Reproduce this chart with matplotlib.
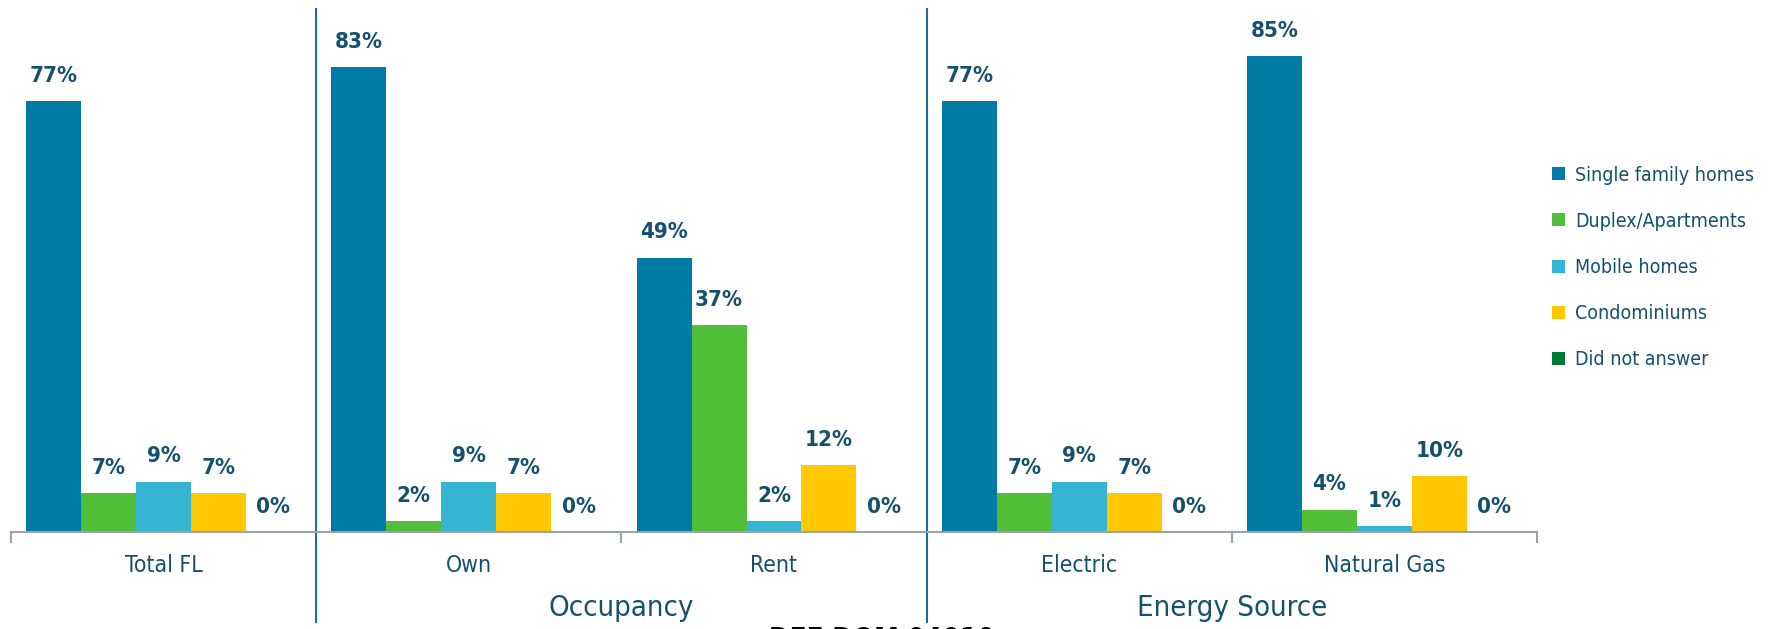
import numpy as np
import matplotlib
matplotlib.use("Agg")
import matplotlib.pyplot as plt
from matplotlib.transforms import blended_transform_factory

plt.rcParams['font.family'] = ['DejaVu Sans']
plt.rcParams['font.stretch'] = 'condensed'

groups = ["Total FL", "Own", "Rent", "Electric", "Natural Gas"]
series = ["Single family homes", "Duplex/Apartments", "Mobile homes",
          "Condominiums", "Did not answer"]
single_family = [77, 83, 49, 77, 85]
duplex = [7, 2, 37, 7, 4]
mobile = [9, 9, 2, 9, 1]
condo = [7, 7, 12, 7, 10]
no_answer = [0, 0, 0, 0, 0]
sections = [("Occupancy", 2.0), ("Energy Source", 4.0)]

colors = ["#007ba5", "#50be38", "#35b5d1", "#ffc800", "#007a33"]
txt = "#15506e"
grey = "#9aa3ab"
sep_col = "#1b6f93"

fig = plt.figure(figsize=(17.9, 6.29), dpi=100)
ax = fig.add_axes([11 / 1790, 97 / 629, 1526 / 1790, 532 / 629])

values = [single_family, duplex, mobile, condo, no_answer]
x = np.arange(len(groups)) + 0.5
w = 0.18
for i, (vals, name, c) in enumerate(zip(values, series, colors)):
    pos = x + (i - 2) * w
    ax.bar(pos, vals, w, color=c, label=name, linewidth=0)
    for p, v in zip(pos, vals):
        ax.annotate(f"{v}%", (p, v), xytext=(0, 11), textcoords="offset points",
                    ha="center", va="bottom", fontsize=16, fontweight="bold",
                    color=txt)

ax.set_xlim(0, 5)
ax.set_ylim(0, 95)
ax.set_yticks([])
for s in ["top", "right", "left"]:
    ax.spines[s].set_visible(False)
ax.spines["bottom"].set_color(grey)
ax.spines["bottom"].set_linewidth(1.5)

ax.set_xticks(x)
ax.set_xticklabels(groups, fontsize=16.5, color=txt)
ax.tick_params(axis="x", which="major", length=0, pad=16)
ax.set_xticks([0, 2, 4, 5], minor=True)
ax.tick_params(axis="x", which="minor", length=8, width=1.5, color=grey)

tr = blended_transform_factory(ax.transData, fig.transFigure)
for xs in [1, 3]:
    ax.plot([xs, xs], [7 / 629, 620 / 629], transform=tr, color=sep_col,
            lw=1.5, clip_on=False)
for name, xc in sections:
    ax.text(xc, 21 / 629, name, transform=tr, ha="center", va="center",
            fontsize=21, color=txt)

fig.text(882 / 1790, 3 / 629, "DEF DOM 04010", ha="center", va="top",
         fontsize=20, fontweight="bold", color="black")

leg = fig.legend(loc="upper left", bbox_to_anchor=(1535 / 1790, 1 - 148 / 629),
                 frameon=False, fontsize=14, handlelength=0.65, handleheight=0.65,
                 handletextpad=0.5, labelspacing=1.4)
for t in leg.get_texts():
    t.set_color(txt)

fig.savefig("out.png", dpi=100)
